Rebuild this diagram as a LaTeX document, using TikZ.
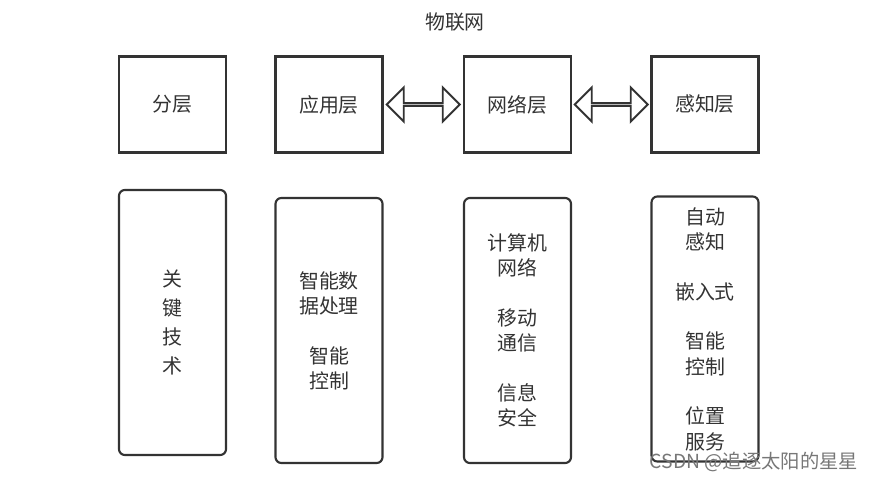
\documentclass[tikz,border=0pt]{standalone}
\usepackage{fontspec}
\usepackage{tikz}
\usetikzlibrary{shapes.arrows,calc}
\newfontfamily\cjk{Noto Sans CJK SC}
\definecolor{ink}{HTML}{333333}
\definecolor{mark}{HTML}{777777}

\begin{document}
\begin{tikzpicture}[x=0.03cm,y=-0.03cm,
          every node/.style={font=\cjk\fontsize{17}{21.5}\selectfont,text=ink},
          layer/.style={draw=ink,line width=1.8pt,minimum width=3.21cm,
                        minimum height=2.88cm,inner sep=0pt},
          tech/.style={draw=ink,line width=1.8pt,rounded corners=5pt,
                       minimum width=3.21cm,minimum height=7.95cm,
                       align=center,inner sep=0pt},
          link/.style={double arrow,draw=ink,line width=1.6pt,
                       minimum height=2.19cm,minimum width=1.02cm,
                       double arrow head extend=0.33cm,inner sep=0pt},
      ]
        \useasboundingbox (0,0) rectangle (875,480);
        \node (title) at (455,22) {物联网};

        \node[layer] (fen) at (172.5,104.5) {分层};
        \node[layer] (app) at (329,104.5) {应用层};
        \node[layer] (net) at (517.5,104.5) {网络层};
        \node[layer] (sense) at (705,104.5) {感知层};

        \node[link] (a1) at ($(app.east)!0.5!(net.west)$) {};
        \node[link] (a2) at ($(net.east)!0.5!(sense.west)$) {};

        \node[tech] (key) at (172.5,322.5) {关\\[3pt]键\\[3pt]技\\[3pt]术};
        \node[tech] (appk) at (329,330.5)
          {智能数\\据处理\\[21pt]智能\\控制};
        \node[tech] (netk) at (517.5,330.5)
          {计算机\\网络\\[21pt]移动\\通信\\[21pt]信息\\安全};
        \node[tech] (sensek) at (705,329)
          {自动\\感知\\[21pt]嵌入式\\[21pt]智能\\控制\\[21pt]位置\\服务};

        \node[text=mark,font=\cjk\fontsize{16.5}{19}\selectfont] (wm) at (754,462)
          {CSDN @追逐太阳的星星};
      \end{tikzpicture}
\end{document}
